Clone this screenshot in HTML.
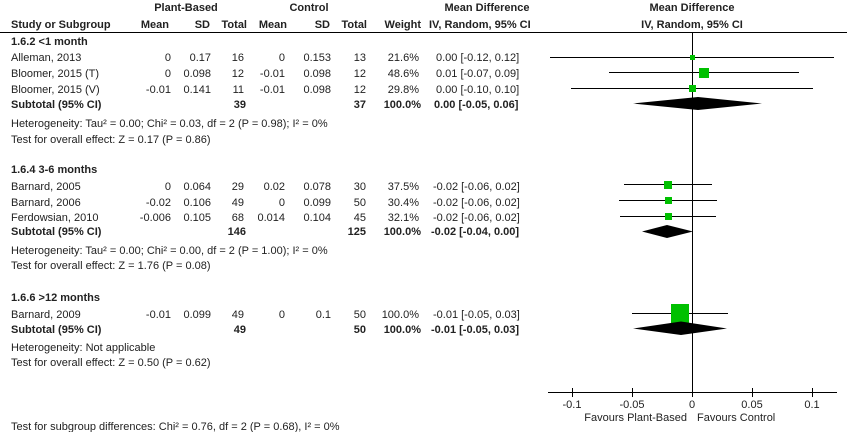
<!DOCTYPE html>
<html><head><meta charset="utf-8"><style>
html,body{margin:0;padding:0;background:#fff;}
svg{display:block;}
text{font-family:"Liberation Sans",Arial,sans-serif;font-size:11px;fill:#222;}
.b{font-weight:bold;}
.r{text-anchor:end;}
.m{text-anchor:middle;}
</style></head><body>
<svg width="847" height="432" viewBox="0 0 847 432" xmlns="http://www.w3.org/2000/svg">
<text class="b m" x="186" y="11">Plant-Based</text>
<text class="b m" x="309" y="11">Control</text>
<text class="b m" x="487" y="11">Mean Difference</text>
<text class="b m" x="692" y="11">Mean Difference</text>
<text class="b" x="11" y="28">Study or Subgroup</text>
<text class="b r" x="169" y="28">Mean</text>
<text class="b r" x="210" y="28">SD</text>
<text class="b r" x="247" y="28">Total</text>
<text class="b r" x="287" y="28">Mean</text>
<text class="b r" x="330" y="28">SD</text>
<text class="b r" x="367" y="28">Total</text>
<text class="b r" x="421" y="28">Weight</text>
<text class="b" x="429" y="28">IV, Random, 95% CI</text>
<text class="b m" x="692" y="28">IV, Random, 95% CI</text>
<line x1="0" y1="32.5" x2="847" y2="32.5" stroke="#000" stroke-width="1"/>

<text class="b" x="11" y="45">1.6.2 &lt;1 month</text>
<text x="11" y="61">Alleman, 2013</text><text class="r" x="171" y="61">0</text><text class="r" x="211" y="61">0.17</text><text class="r" x="244" y="61">16</text><text class="r" x="285" y="61">0</text><text class="r" x="331" y="61">0.153</text><text class="r" x="366" y="61">13</text><text class="r" x="419" y="61">21.6%</text><text x="436" y="61">0.00 [-0.12, 0.12]</text>
<text x="11" y="77">Bloomer, 2015 (T)</text><text class="r" x="171" y="77">0</text><text class="r" x="211" y="77">0.098</text><text class="r" x="244" y="77">12</text><text class="r" x="285" y="77">-0.01</text><text class="r" x="331" y="77">0.098</text><text class="r" x="366" y="77">12</text><text class="r" x="419" y="77">48.6%</text><text x="436" y="77">0.01 [-0.07, 0.09]</text>
<text x="11" y="93">Bloomer, 2015 (V)</text><text class="r" x="171" y="93">-0.01</text><text class="r" x="211" y="93">0.141</text><text class="r" x="244" y="93">11</text><text class="r" x="285" y="93">-0.01</text><text class="r" x="331" y="93">0.098</text><text class="r" x="366" y="93">12</text><text class="r" x="419" y="93">29.8%</text><text x="436" y="93">0.00 [-0.10, 0.10]</text>
<text class="b" x="11" y="108">Subtotal (95% CI)</text><text class="b r" x="246" y="108">39</text><text class="b r" x="366" y="108">37</text><text class="b r" x="421" y="108">100.0%</text><text class="b" x="434" y="108">0.00 [-0.05, 0.06]</text>
<text x="11" y="127">Heterogeneity: Tau² = 0.00; Chi² = 0.03, df = 2 (P = 0.98); I² = 0%</text>
<text x="11" y="143">Test for overall effect: Z = 0.17 (P = 0.86)</text>

<text class="b" x="11" y="173">1.6.4 3-6 months</text>
<text x="11" y="190">Barnard, 2005</text><text class="r" x="171" y="190">0</text><text class="r" x="211" y="190">0.064</text><text class="r" x="244" y="190">29</text><text class="r" x="285" y="190">0.02</text><text class="r" x="331" y="190">0.078</text><text class="r" x="366" y="190">30</text><text class="r" x="419" y="190">37.5%</text><text x="433" y="190">-0.02 [-0.06, 0.02]</text>
<text x="11" y="206">Barnard, 2006</text><text class="r" x="171" y="206">-0.02</text><text class="r" x="211" y="206">0.106</text><text class="r" x="244" y="206">49</text><text class="r" x="285" y="206">0</text><text class="r" x="331" y="206">0.099</text><text class="r" x="366" y="206">50</text><text class="r" x="419" y="206">30.4%</text><text x="433" y="206">-0.02 [-0.06, 0.02]</text>
<text x="11" y="221">Ferdowsian, 2010</text><text class="r" x="171" y="221">-0.006</text><text class="r" x="211" y="221">0.105</text><text class="r" x="244" y="221">68</text><text class="r" x="285" y="221">0.014</text><text class="r" x="331" y="221">0.104</text><text class="r" x="366" y="221">45</text><text class="r" x="419" y="221">32.1%</text><text x="433" y="221">-0.02 [-0.06, 0.02]</text>
<text class="b" x="11" y="235">Subtotal (95% CI)</text><text class="b r" x="246" y="235">146</text><text class="b r" x="366" y="235">125</text><text class="b r" x="421" y="235">100.0%</text><text class="b" x="431" y="235">-0.02 [-0.04, 0.00]</text>
<text x="11" y="254">Heterogeneity: Tau² = 0.00; Chi² = 0.00, df = 2 (P = 1.00); I² = 0%</text>
<text x="11" y="269">Test for overall effect: Z = 1.76 (P = 0.08)</text>

<text class="b" x="11" y="301">1.6.6 &gt;12 months</text>
<text x="11" y="318">Barnard, 2009</text><text class="r" x="171" y="318">-0.01</text><text class="r" x="211" y="318">0.099</text><text class="r" x="244" y="318">49</text><text class="r" x="285" y="318">0</text><text class="r" x="331" y="318">0.1</text><text class="r" x="366" y="318">50</text><text class="r" x="419" y="318">100.0%</text><text x="433" y="318">-0.01 [-0.05, 0.03]</text>
<text class="b" x="11" y="333">Subtotal (95% CI)</text><text class="b r" x="246" y="333">49</text><text class="b r" x="366" y="333">50</text><text class="b r" x="421" y="333">100.0%</text><text class="b" x="431" y="333">-0.01 [-0.05, 0.03]</text>
<text x="11" y="351">Heterogeneity: Not applicable</text>
<text x="11" y="366">Test for overall effect: Z = 0.50 (P = 0.62)</text>

<text x="11" y="430">Test for subgroup differences: Chi² = 0.76, df = 2 (P = 0.68), I² = 0%</text>

<g stroke="#000" stroke-width="1">
<line x1="692.5" y1="32" x2="692.5" y2="392"/>
<line x1="550" y1="57.5" x2="834" y2="57.5"/>
<line x1="609" y1="72.5" x2="799" y2="72.5"/>
<line x1="571" y1="88.5" x2="813" y2="88.5"/>
<line x1="624" y1="184.5" x2="712" y2="184.5"/>
<line x1="619" y1="200.5" x2="717" y2="200.5"/>
<line x1="620" y1="216.5" x2="716" y2="216.5"/>
<line x1="632" y1="313.5" x2="728" y2="313.5"/>
<line x1="548" y1="392.5" x2="837" y2="392.5"/>
<line x1="572.5" y1="388" x2="572.5" y2="397"/>
<line x1="632.5" y1="388" x2="632.5" y2="397"/>
<line x1="692.5" y1="388" x2="692.5" y2="397"/>
<line x1="752.5" y1="388" x2="752.5" y2="397"/>
<line x1="812.5" y1="388" x2="812.5" y2="397"/>
</g>
<g fill="#00c000">
<rect x="690" y="55" width="5" height="5"/>
<rect x="699" y="68" width="10" height="10"/>
<rect x="689" y="85" width="7" height="7"/>
<rect x="664" y="181" width="8" height="8"/>
<rect x="665" y="197" width="7" height="7"/>
<rect x="665" y="213" width="7" height="7"/>
<rect x="671" y="304" width="18" height="19"/>
</g>
<g fill="#000">
<polygon points="633,103.5 698,97 762,103.5 698,110"/>
<polygon points="642,231.5 667,225 693,231.5 667,238"/>
<polygon points="633,328.5 681,321.5 727,328.5 681,335"/>
</g>
<text class="m" x="572" y="408">-0.1</text>
<text class="m" x="632" y="408">-0.05</text>
<text class="m" x="692" y="408">0</text>
<text class="m" x="752" y="408">0.05</text>
<text class="m" x="812" y="408">0.1</text>
<text class="r" x="687" y="421">Favours Plant-Based</text>
<text x="697" y="421">Favours Control</text>
</svg>
</body></html>
